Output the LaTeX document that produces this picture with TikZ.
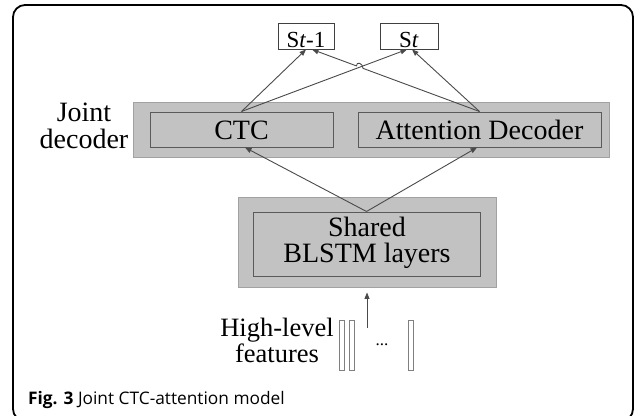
\documentclass[tikz,border=0pt]{standalone}
\usepackage{fontspec}
\setmainfont{Liberation Serif}
\newfontfamily\capfont{Open Sans}
\usetikzlibrary{arrows.meta,calc}
\definecolor{boxfill}{HTML}{C2C2C2}
\definecolor{outerline}{HTML}{A2A2A2}
\definecolor{innerline}{HTML}{5A5A5A}
\definecolor{arrowcol}{HTML}{4A4A4A}
\begin{document}
\begin{tikzpicture}[x=1pt,y=-1pt,
  outerbox/.style={draw=outerline, fill=boxfill, line width=0.9pt, inner sep=0pt},
  innerbox/.style={draw=innerline, fill=boxfill, line width=1pt, inner sep=0pt},
  sbox/.style={draw=black!75, fill=white, line width=0.9pt, inner sep=0pt, minimum height=26pt},
  arr/.style={draw=arrowcol, line width=0.9pt, -{Triangle[length=6.5pt,width=5pt]}},
  bigtxt/.style={inner sep=0pt, anchor=base, font=\fontsize{28}{26}\selectfont},
  midtxt/.style={inner sep=0pt, anchor=base, font=\fontsize{26.5}{26}\selectfont},
  stxt/.style={inner sep=0pt, anchor=base, font=\fontsize{23}{23}\selectfont},
  featbar/.style={draw=gray, fill=white, line width=0.7pt, inner sep=0pt, minimum width=5pt, minimum height=50pt}
]
\useasboundingbox (0,0) rectangle (637,415);
\clip (0,0) rectangle (637,415);
\fill[white] (0,0) rectangle (637,415);
% frame
\draw[line width=1.8pt, rounded corners=12pt] (13,5) rectangle (633,421);

% output boxes
\node[sbox, minimum width=56pt] (s1) at (306,36) {};
\node[sbox, minimum width=58pt] (s2) at (409,36) {};
\node[stxt] (s1t) at (306,47) {S\textit{t}-1};
\node[stxt] (s2t) at (409,47) {S\textit{t}};

% joint decoder
\node[outerbox, minimum width=476pt, minimum height=55pt] (joint) at (371,129.5) {};
\node[innerbox, minimum width=183pt, minimum height=35pt] (ctc) at (241.5,129.5) {};
\node[innerbox, minimum width=243pt, minimum height=35pt] (att) at (479.5,129.5) {};
\node[bigtxt] (ctct) at (241.5,139) {CTC};
\node[bigtxt] (attt) at (479.5,139) {Attention Decoder};
\node[bigtxt] (jl1) at (84,121) {Joint};
\node[bigtxt] (jl2) at (84,148) {decoder};

% shared
\node[outerbox, minimum width=258pt, minimum height=90pt] (shout) at (367,242) {};
\node[innerbox, minimum width=227pt, minimum height=64pt] (shin) at (366.5,244) {};
\node[bigtxt] (sh1) at (367,236) {Shared};
\node[bigtxt] (sh2) at (367,262) {BLSTM layers};

% features
\node[midtxt] (hl1) at (277,336) {High-level};
\node[midtxt] (hl2) at (277,362) {features};
\node[featbar] (f1) at (341.5,345) {};
\node[featbar] (f2) at (351.5,345) {};
\node[featbar] (f3) at (410.5,345) {};
\node[inner sep=0pt, anchor=base, font=\fontsize{17}{17}\selectfont] (dots) at (382,345) {...};
\coordinate (inp) at (367,328);

% connectors
\draw[arr] (inp) -- ($(shout.south)+(0,5)$);
\draw[arr] (shin.north) -- ($(ctc.south)+(3.5,0)$);
\draw[arr] (shin.north) -- ($(att.south)+(-2.5,0)$);
\draw[arr] (ctc.north) -- ($(s1.south)+(0,0)$);
\draw[arr] (ctc.north) -- ($(s2.south)+(-2,0)$);
\draw[arr] (att.north) -- ($(s2.south)+(3,0)$);
\coordinate (a1) at ($(att.north)!0.695!($(s1.south)+(6,0)$)$);
\coordinate (a2) at ($(att.north)!0.735!($(s1.south)+(6,0)$)$);
\draw[arr] (att.north) -- (a1) .. controls +(0,-5) and +(0,-5) .. (a2) -- ($(s1.south)+(6,0)$);

% caption
\node[inner sep=0pt, anchor=base west, font=\capfont\fontsize{17.3}{19}\selectfont] (cap) at (28,404) {\textbf{Fig. 3} Joint CTC-attention model};
\end{tikzpicture}
\end{document}
